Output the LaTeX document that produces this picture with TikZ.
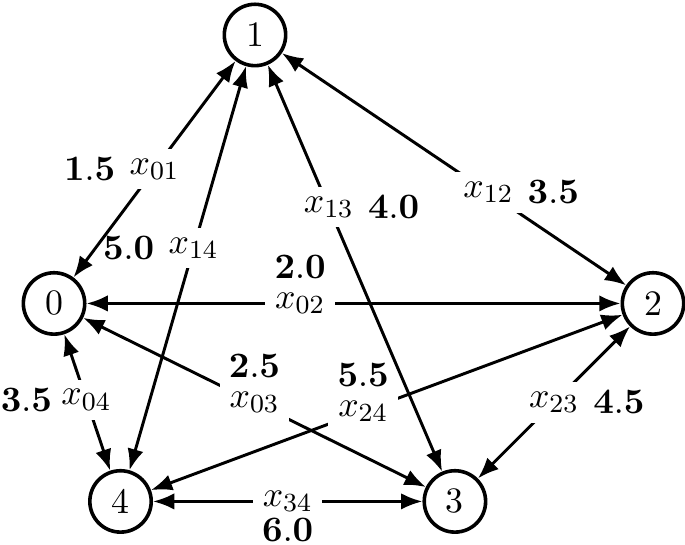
\documentclass[tikz,border=0pt,11pt]{standalone}
\usepackage{amsmath}
\usepackage{amssymb}
\usepackage{tikz}
\usetikzlibrary{arrows.meta}

\begin{document}
\begin{tikzpicture}[
  vertex/.style={draw,circle,line width=1.1pt,minimum size=0.66cm,inner sep=0pt},
  flow/.style={{Latex[length=6.5pt,width=5pt]}-{Latex[length=6.5pt,width=5pt]},line width=0.9pt},
  var/.style={fill=white,inner sep=3pt},
  cost/.style={inner sep=0.5pt}
]
      \useasboundingbox (0,0) rectangle (7.366,-5.860);
      \node[vertex] (n0) at (0.581,-3.263) {0};
      \node[vertex] (n1) at (2.742,-0.376) {1};
      \node[vertex] (n2) at (7.022,-3.263) {2};
      \node[vertex] (n3) at (4.892,-5.392) {3};
      \node[vertex] (n4) at (1.296,-5.392) {4};
      \draw[flow] (n0) -- node[var,pos=0.5,label={[cost]left:$\mathbf{1.5}$}] (x01) {$x_{01}$} (n1);
      \draw[flow] (n1) -- node[var,pos=0.45,label={[cost]left:$\mathbf{5.0}$}] (x14) {$x_{14}$} (n4);
      \draw[flow] (n1) -- node[var,pos=0.35,label={[cost]right:$\mathbf{4.0}$}] (x13) {$x_{13}$} (n3);
      \draw[flow] (n1) -- node[var,pos=0.6,label={[cost]right:$\mathbf{3.5}$}] (x12) {$x_{12}$} (n2);
      \draw[flow] (n0) -- node[var,pos=0.4,label={[cost]above:$\mathbf{2.0}$}] (x02) {$x_{02}$} (n2);
      \draw[flow] (n0) -- node[var,pos=0.5,label={[cost]above:$\mathbf{2.5}$}] (x03) {$x_{03}$} (n3);
      \draw[flow] (n2) -- node[var,pos=0.55,label={[cost]above:$\mathbf{5.5}$}] (x24) {$x_{24}$} (n4);
      \draw[flow] (n2) -- node[var,pos=0.5,label={[cost]right:$\mathbf{4.5}$}] (x23) {$x_{23}$} (n3);
      \draw[flow] (n0) -- node[var,pos=0.48,label={[cost,label distance=-1.5pt]left:$\mathbf{3.5}$}] (x04) {$x_{04}$} (n4);
      \draw[flow] (n4) -- node[var,pos=0.5,label={[cost,label distance=-2.5pt]below:$\mathbf{6.0}$}] (x34) {$x_{34}$} (n3);
\end{tikzpicture}
\end{document}
